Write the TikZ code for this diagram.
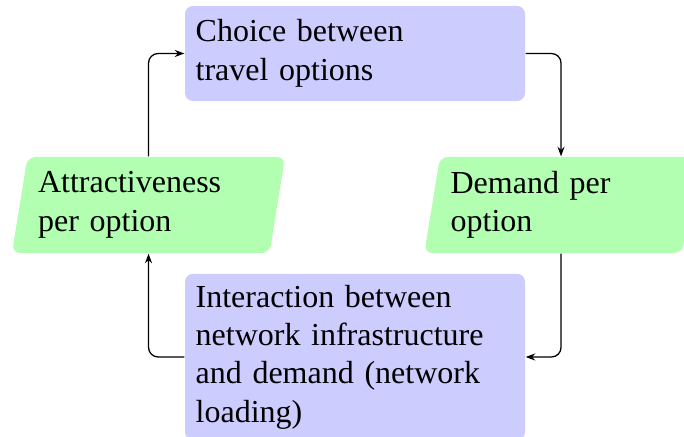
\documentclass[tikz,border=0pt]{standalone}
\usepackage{fontspec}
\setmainfont{Liberation Serif}
\usetikzlibrary{shapes.geometric,arrows.meta}

\tikzset{
  process/.style={rectangle, rounded corners=2.5pt, fill=blue!20,
    text width=3.5cm, align=left, inner sep=3.33pt,
    minimum width=106.25pt},
  quantity/.style={trapezium, trapezium left angle=80, trapezium right angle=100,
    trapezium stretches body=true, rounded corners=2.5pt, fill=green!30,
    text width=69pt, align=left, inner sep=3.33pt,
    minimum width=80pt, minimum height=30pt},
  flow/.style={-{Stealth[length=3pt,width=2.2pt]}, rounded corners=3pt, line width=0.4pt}
}

\begin{document}
\begin{tikzpicture}[x=0.3125pt, y=-0.3125pt]
  \useasboundingbox (0,0) rectangle (684,437);
  \clip (0,0) rectangle (684,437);

  % the two processes
  \node[process, minimum height=29.7pt] (choice) at (355,53.5)
    {Choice between\\travel options};
  \node[process, minimum height=52pt] (loading) at (355,357)
    {Interaction between network infrastructure and demand (network loading)};

  % the two quantities passed between them
  \node[quantity] (attract) at (148.5,205) {Attractiveness per option};
  \node[quantity] (demand) at (561,205) {Demand per option};

  % the feedback loop
  \draw[flow] (attract.north) |- (choice.west);
  \draw[flow] (choice.east) -| (demand.north);
  \draw[flow] (demand.south) |- (loading.east);
  \draw[flow] (loading.west) -| (attract.south);
\end{tikzpicture}
\end{document}
